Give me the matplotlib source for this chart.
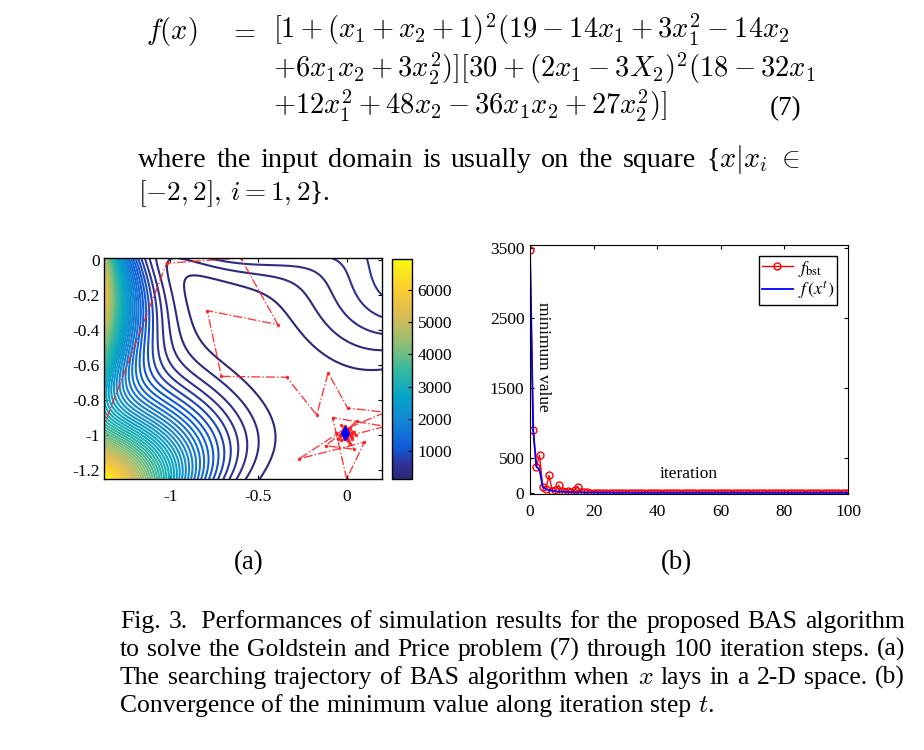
import numpy as np
import matplotlib
matplotlib.use('Agg')
import matplotlib.pyplot as plt
from matplotlib.colors import LinearSegmentedColormap, Normalize
from matplotlib.cm import ScalarMappable
from matplotlib.font_manager import FontProperties

plt.rcParams['font.family'] = ['Liberation Serif', 'DejaVu Serif']
plt.rcParams['mathtext.fontset'] = 'cm'
plt.rcParams['axes.unicode_minus'] = False

# ---------------- data ----------------
# panel (a): search trajectory of BAS (x1, x2)
traj_x1 = [-1.42, -1.02, -0.60, -0.39, -0.79, -0.71, -0.34, -0.17, -0.105, 0.005,
           0.22, -0.02, -0.27, 0.10, 0.00, -0.08, 0.22, -0.05, 0.06, -0.12,
           0.04, -0.03, 0.05, -0.06, 0.02, -0.01, 0.04, -0.03, 0.03, -0.02,
           0.03, -0.01, 0.02, -0.04, 0.01, 0.00, 0.03, -0.02, 0.01, -0.01,
           0.02, 0.00, -0.01]
traj_x2 = [-1.06, -0.02, 0.01, -0.37, -0.29, -0.665, -0.67, -0.885, -0.645, -0.845,
           -0.87, -0.97, -1.135, -1.04, -1.25, -0.90, -0.95, -1.02, -0.92, -1.06,
           -1.08, -0.94, -1.00, -0.99, -1.05, -0.95, -0.98, -1.03, -1.02, -0.97,
           -0.99, -1.02, -0.96, -1.00, -1.03, -0.97, -1.01, -1.00, -0.98, -0.99,
           -1.00, -1.01, -0.985]
best_x1 = -0.01
best_x2 = -0.985
a_xticks = [-1, -0.5, 0]
a_xticklabels = ['-1', '-0.5', '0']
a_yticks = [0, -0.2, -0.4, -0.6, -0.8, -1, -1.2]
a_yticklabels = ['0', '-0.2', '-0.4', '-0.6', '-0.8', '-1', '-1.2']
cbar_ticks = [1000, 2000, 3000, 4000, 5000, 6000]

# panel (b): convergence
iterations = list(range(101))
f_bst = [3480, 900, 370, 540, 90, 60, 250, 25, 45, 110,
         30, 20, 28, 15, 40, 90, 12, 9, 7, 6,
         5.6, 5.3, 5.0, 4.8, 4.6, 4.5, 4.4, 4.3, 4.2, 4.1,
         4.0, 3.9, 3.9, 3.8, 3.8, 3.7, 3.7, 3.6, 3.6, 3.5,
         3.5, 3.5, 3.4, 3.4, 3.4, 3.3, 3.3, 3.3, 3.3, 3.2,
         3.2, 3.2, 3.2, 3.2, 3.1, 3.1, 3.1, 3.1, 3.1, 3.1,
         3.1, 3.1, 3.0, 3.0, 3.0, 3.0, 3.0, 3.0, 3.0, 3.0,
         3.0, 3.0, 3.0, 3.0, 3.0, 3.0, 3.0, 3.0, 3.0, 3.0,
         3.0, 3.0, 3.0, 3.0, 3.0, 3.0, 3.0, 3.0, 3.0, 3.0,
         3.0, 3.0, 3.0, 3.0, 3.0, 3.0, 3.0, 3.0, 3.0, 3.0, 3.0]
f_xt = [3480, 900, 380, 330, 85, 55, 40, 30, 24, 20,
        17, 15, 13, 12, 11, 10, 9, 8, 7.5, 7,
        6.5, 6.0, 5.6, 5.3, 5.0, 4.8, 4.6, 4.4, 4.3, 4.2,
        4.0, 3.9, 3.8, 3.7, 3.7, 3.6, 3.5, 3.5, 3.4, 3.4,
        3.3, 3.3, 3.3, 3.2, 3.2, 3.2, 3.2, 3.1, 3.1, 3.1,
        3.1, 3.1, 3.1, 3.0, 3.0, 3.0, 3.0, 3.0, 3.0, 3.0,
        3.0, 3.0, 3.0, 3.0, 3.0, 3.0, 3.0, 3.0, 3.0, 3.0,
        3.0, 3.0, 3.0, 3.0, 3.0, 3.0, 3.0, 3.0, 3.0, 3.0,
        3.0, 3.0, 3.0, 3.0, 3.0, 3.0, 3.0, 3.0, 3.0, 3.0,
        3.0, 3.0, 3.0, 3.0, 3.0, 3.0, 3.0, 3.0, 3.0, 3.0, 3.0]
b_xticks = [0, 20, 40, 60, 80, 100]
b_yticks = [0, 500, 1500, 2500, 3500]

# ---------------- figure ----------------
W, H = 924, 750
fig = plt.figure(figsize=(W / 100, H / 100), dpi=100)
renderer = fig.canvas.get_renderer()


def fx(px):
    return px / W


def fy(py):
    return 1 - py / H


def width_of(s, size):
    t = fig.text(0, 0, s, fontsize=size)
    w = t.get_window_extent(renderer).width
    t.remove()
    return w


def fit_size(words, target):
    ws = sum(width_of(w, 10) for w in words)
    sp = 10 * 100 / 72 * 0.25
    nat = ws + sp * (len(words) - 1)
    return 10 * target / nat


def put_line(words, x0, x1, y, size, justify=True):
    widths = [width_of(w, size) for w in words]
    if justify and len(words) > 1:
        gap = (x1 - x0 - sum(widths)) / (len(words) - 1)
    else:
        gap = size * 100 / 72 * 0.25
    x = x0
    for w, wd in zip(words, widths):
        fig.text(fx(x), fy(y), w, fontsize=size, va='baseline', ha='left')
        x += wd + gap


# ---- equation (7) ----
eq1 = r"$[1+(x_1+x_2+1)^2(19-14x_1+3x_1^2-14x_2$"
eq2 = r"$+6x_1x_2+3x_2^2)][30+(2x_1-3X_2)^2(18-32x_1$"
eq3 = r"$+12x_1^2+48x_2-36x_1x_2+27x_2^2)]$"
eq_size = 17.5 * 517 / width_of(eq1, 17.5)
fig.text(fx(146), fy(39), r"$f(x)$", fontsize=eq_size, va='baseline')
fig.text(fx(228), fy(39), r"$=$", fontsize=eq_size, va='baseline')
fig.text(fx(273), fy(39), eq1, fontsize=eq_size, va='baseline')
fig.text(fx(273), fy(78), eq2, fontsize=eq_size, va='baseline')
fig.text(fx(273), fy(115), eq3, fontsize=eq_size, va='baseline')
fig.text(fx(770), fy(115), "(7)", fontsize=eq_size * 0.95, va='baseline')

# ---- paragraph ----
p1 = ["where", "the", "input", "domain", "is", "usually", "on", "the", "square",
      r"{$x|x_i$", r"$\in$"]
p_size = fit_size(p1, 640)
put_line(p1, 138, 800, 167, p_size)
fig.text(fx(138), fy(200), r"$[-2,2],\,i=1,2$}.", fontsize=p_size * 0.97, va='baseline')

# ---- caption ----
c1 = ["Fig.", "3.", " Performances", "of", "simulation", "results", "for", "the",
      "proposed", "BAS", "algorithm"]
c2 = ["to", "solve", "the", "Goldstein", "and", "Price", "problem", "(7)", "through",
      "100", "iteration", "steps.", "(a)"]
c3 = ["The", "searching", "trajectory", "of", "BAS", "algorithm", "when", r"$x$",
      "lays", "in", "a", "2-D", "space.", "(b)"]
c4 = ["Convergence", "of", "the", "minimum", "value", "along", "iteration", "step",
      r"$t$."]
c_size = fit_size(c2, 775)
put_line(c1, 120, 905, 628, c_size)
put_line(c2, 120, 905, 656, c_size)
put_line(c3, 120, 905, 684, c_size)
put_line(c4, 120, 905, 712, c_size, justify=False)

fig.text(fx(249), fy(563), "(a)", fontsize=c_size * 1.05, ha='center', va='center')
fig.text(fx(676), fy(563), "(b)", fontsize=c_size * 1.05, ha='center', va='center')

# ---------------- panel (a) ----------------
parula = LinearSegmentedColormap.from_list(
    'parula', [(0.0, '#2a2878'), (0.07, '#2f3596'), (0.14, '#0f59d8'),
               (0.25, '#1482d6'), (0.38, '#06a6c6'), (0.5, '#38b99e'),
               (0.62, '#92bf73'), (0.74, '#d9ba56'), (0.87, '#fcce2e'),
               (1.0, '#f9fb0e')])

xlim_a = (-1.375, 0.2)
ylim_a = (-1.25, 0.01)
gx = np.linspace(xlim_a[0], xlim_a[1], 500)
gy = np.linspace(ylim_a[0], ylim_a[1], 500)
X1, X2 = np.meshgrid(gx, gy)
A = 1 + (X1 + X2 + 1) ** 2 * (19 - 14 * X1 + 3 * X1 ** 2 - 14 * X2 + 6 * X1 * X2 + 3 * X2 ** 2)
B = 30 + (2 * X1 - 3 * X2) ** 2 * (18 - 32 * X1 + 12 * X1 ** 2 + 48 * X2 - 36 * X1 * X2 + 27 * X2 ** 2)
Z = A * B
levels = np.linspace(Z.min(), Z.max(), 52)[1:-1]
norm = Normalize(levels[0], levels[-1])

ax_a = fig.add_axes([fx(104), fy(479), (382 - 104) / W, (479 - 258) / H])
ax_a.contour(X1, X2, Z, levels=levels, cmap=parula, norm=norm, linewidths=1.5)
ax_a.plot(traj_x1, traj_x2, color='#ff1a1a', ls='-.', lw=1.0, marker='.', ms=3, alpha=0.85)
ax_a.plot([best_x1], [best_x2], marker='d', color='blue', ms=7, ls='none')
ax_a.set_xlim(*xlim_a)
ax_a.set_ylim(*ylim_a)
ax_a.set_xticks(a_xticks)
ax_a.set_xticklabels(a_xticklabels)
ax_a.set_yticks(a_yticks)
ax_a.set_yticklabels(a_yticklabels)
ax_a.tick_params(direction='in', top=True, right=True, length=3, labelsize=12.5)
ax_a.tick_params(axis='x', pad=7)
ax_a.tick_params(axis='y', pad=3)
for s in ax_a.spines.values():
    s.set_linewidth(1.0)

cax = fig.add_axes([fx(392), fy(479), (412 - 392) / W, (479 - 259) / H])
cb = fig.colorbar(ScalarMappable(norm=norm, cmap=parula), cax=cax, ticks=cbar_ticks)
cb.ax.tick_params(direction='in', length=3, labelsize=12.5, pad=4)
cb.outline.set_linewidth(1.0)

# ---------------- panel (b) ----------------
ax_b = fig.add_axes([fx(530), fy(494), (848 - 530) / W, (494 - 245) / H])
ax_b.plot(iterations, f_bst, color='red', lw=1.0, marker='o', ms=5, mfc='none',
          mew=1.0, label=r'$f_{\rm bst}$')
ax_b.plot(iterations, f_xt, color='blue', lw=1.3, label=r'$f\,(x^t)$')
ax_b.set_xlim(0, 100)
ax_b.set_ylim(-15, 3545)
ax_b.set_xticks(b_xticks)
ax_b.set_yticks(b_yticks)
ax_b.tick_params(direction='in', top=True, right=True, length=3, labelsize=12.5)
ax_b.tick_params(axis='x', pad=7)
ax_b.tick_params(axis='y', pad=4)
ax_b.text(4.2, 1950, 'minimum value', rotation=-90, fontsize=12.5,
          ha='center', va='center')
ax_b.text(50, 265, 'iteration', fontsize=12.5, ha='center', va='center')
leg = ax_b.legend(loc='upper right', fancybox=False, framealpha=1,
                  prop=FontProperties(family='Liberation Serif', size=13, math_fontfamily='stix'),
                  edgecolor='black', borderpad=0.15, labelspacing=0.05,
                  handletextpad=0.3, handlelength=1.7, borderaxespad=0.6)
leg.get_frame().set_linewidth(1.0)

fig.savefig('out.png', dpi=100)
